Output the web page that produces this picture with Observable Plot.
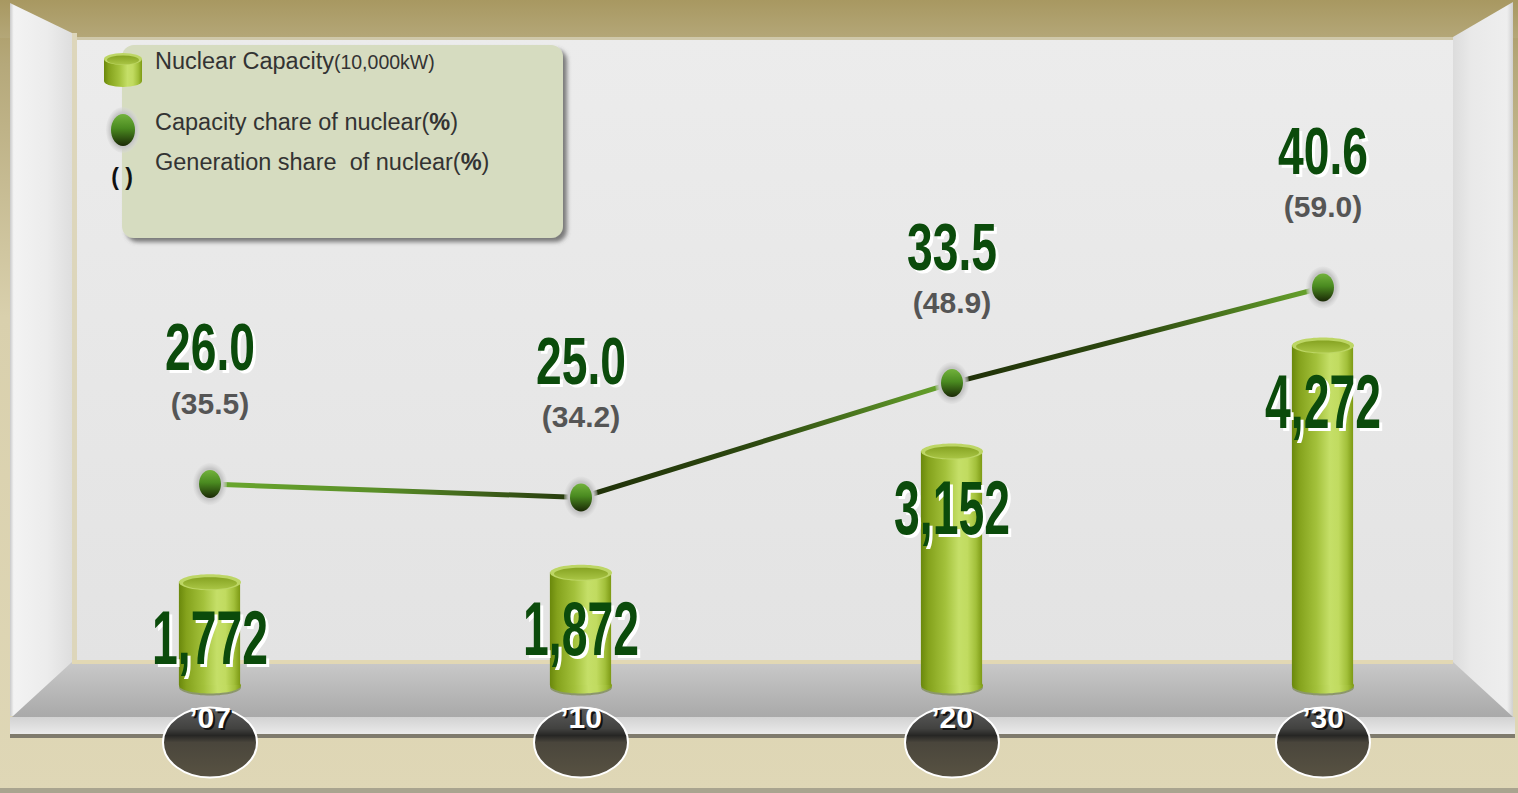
<!DOCTYPE html>
<html><head><meta charset="utf-8">
<script src="https://cdn.jsdelivr.net/npm/d3@7"></script>
<script src="https://cdn.jsdelivr.net/npm/@observablehq/plot@0.6"></script>
<style>
html,body{margin:0;padding:0;background:#dfd7b6;}
#wrap{position:relative;width:1518px;height:793px;overflow:hidden;}
#wrap > svg{position:absolute;left:0;top:0;}
</style></head><body><div id="wrap">
<svg id="bg" width="1518" height="793" xmlns="http://www.w3.org/2000/svg">
  <defs>
    <linearGradient id="outerGrad" x1="0" y1="0" x2="0" y2="1">
      <stop offset="0" stop-color="#a99962"/>
      <stop offset="0.08" stop-color="#b5a87a"/>
      <stop offset="0.4" stop-color="#d9d0ad"/>
      <stop offset="1" stop-color="#dfd7b6"/>
    </linearGradient>
    <linearGradient id="ceilGrad" x1="0" y1="0" x2="0" y2="1">
      <stop offset="0" stop-color="#a89861"/>
      <stop offset="1" stop-color="#b4a778"/>
    </linearGradient>
    <linearGradient id="wallGrad" x1="0" y1="0" x2="0" y2="1">
      <stop offset="0" stop-color="#ececec"/>
      <stop offset="1" stop-color="#e3e3e3"/>
    </linearGradient>
    <linearGradient id="leftWall" x1="0" y1="0" x2="1" y2="0">
      <stop offset="0" stop-color="#c9c9c9"/>
      <stop offset="0.06" stop-color="#f3f3f3"/>
      <stop offset="0.6" stop-color="#ececec"/>
      <stop offset="1" stop-color="#dedede"/>
    </linearGradient>
    <linearGradient id="rightWall" x1="0" y1="0" x2="1" y2="0">
      <stop offset="0" stop-color="#dcdcdc"/>
      <stop offset="0.3" stop-color="#e9e9e9"/>
      <stop offset="0.9" stop-color="#eeeeee"/>
      <stop offset="1" stop-color="#d0d0d0"/>
    </linearGradient>
    <linearGradient id="floorGrad" x1="0" y1="0" x2="0" y2="1">
      <stop offset="0" stop-color="#c9c9c9"/>
      <stop offset="0.5" stop-color="#b9b9b9"/>
      <stop offset="1" stop-color="#a9a9a9"/>
    </linearGradient>
    <linearGradient id="stripGrad" x1="0" y1="0" x2="0" y2="1">
      <stop offset="0" stop-color="#d2d2d2"/>
      <stop offset="1" stop-color="#ececec"/>
    </linearGradient>
    <linearGradient id="cylBody" x1="0" y1="0" x2="1" y2="0">
      <stop offset="0" stop-color="#6a880c"/>
      <stop offset="0.12" stop-color="#84a21c"/>
      <stop offset="0.4" stop-color="#a3c13b"/>
      <stop offset="0.62" stop-color="#c5df68"/>
      <stop offset="0.76" stop-color="#c1db60"/>
      <stop offset="0.9" stop-color="#a2c03a"/>
      <stop offset="1" stop-color="#7d9a14"/>
    </linearGradient>
    <linearGradient id="cylTop" x1="0" y1="0" x2="0" y2="1">
      <stop offset="0" stop-color="#86a322"/>
      <stop offset="1" stop-color="#a9c545"/>
    </linearGradient>
    <linearGradient id="ptGrad" x1="0" y1="0" x2="0" y2="1">
      <stop offset="0" stop-color="#72b23c"/>
      <stop offset="0.45" stop-color="#4a8a20"/>
      <stop offset="1" stop-color="#1b2906"/>
    </linearGradient>
    <radialGradient id="halo">
      <stop offset="0" stop-color="#b4b4b4"/>
      <stop offset="0.75" stop-color="#c6c6c6"/>
      <stop offset="1" stop-color="#d8d8d8" stop-opacity="0.3"/>
    </radialGradient>
    <linearGradient id="segA" x1="0" y1="0" x2="1" y2="0">
      <stop offset="0" stop-color="#6aa82e"/>
      <stop offset="0.45" stop-color="#5a8f28"/>
      <stop offset="1" stop-color="#24360c"/>
    </linearGradient>
    <linearGradient id="segB" x1="0" y1="0" x2="1" y2="0">
      <stop offset="0" stop-color="#1f2f08"/>
      <stop offset="0.5" stop-color="#2e4a10"/>
      <stop offset="1" stop-color="#6aa82e"/>
    </linearGradient>
    <linearGradient id="yearGrad" x1="0" y1="0" x2="0" y2="1">
      <stop offset="0" stop-color="#5c5c5c"/>
      <stop offset="0.3" stop-color="#424240"/>
      <stop offset="0.4" stop-color="#262624"/>
      <stop offset="0.5" stop-color="#4a463c"/>
      <stop offset="1" stop-color="#585242"/>
    </linearGradient>
    <filter id="legShadow" x="-10%" y="-10%" width="130%" height="130%">
      <feDropShadow dx="4" dy="4" stdDeviation="2" flood-color="#555" flood-opacity="0.75"/>
    </filter>
  </defs>
  <rect x="0" y="0" width="1518" height="793" fill="url(#outerGrad)"/>
  <rect x="0" y="0" width="1518" height="38" fill="url(#ceilGrad)"/>
  <rect x="72" y="37" width="1382" height="627" fill="url(#wallGrad)"/>
  <rect x="72" y="37" width="1382" height="3" fill="#cfc8aa"/>
  <polygon points="10,3 72,33 72,664 18,716 10,716" fill="url(#leftWall)"/>
  <rect x="72" y="33" width="5" height="631" fill="#ddd6bb"/>
  <polygon points="1453,37 1513,2 1513,718 1453,664" fill="url(#rightWall)"/>
  <polygon points="72,662 1453,662 1513,717 12,717" fill="url(#floorGrad)"/>
  <rect x="72" y="660" width="1381" height="4" fill="#e2d8b4"/>
  <rect x="10" y="717" width="1505" height="18" fill="url(#stripGrad)"/>
  <rect x="10" y="734" width="1505" height="4" fill="#7f7b6d"/>
  <rect x="0" y="788" width="1518" height="5" fill="#a9a48f"/>
</svg>
</div>
<script>
// ---- data ----
const years = ["’07", "’10", "’20", "’30"];
const capacity = [1772, 1872, 3152, 4272];          // 10,000 kW
const capacityShare = [26.0, 25.0, 33.5, 40.6];     // %
const generationShare = [35.5, 34.2, 48.9, 59.0];   // %

const rows = years.map((year, i) => ({year, cap: capacity[i], share: capacityShare[i], gen: generationShare[i]}));
const segments = rows.slice(1).map((d, i) => ({from: rows[i].year, to: d.year, s1: rows[i].share, s2: d.share, first: i === 0}));

function ellipse(rx, ry) {
  const k = 0.5522847498;
  return {draw(ctx) {
    ctx.moveTo(rx, 0);
    ctx.bezierCurveTo(rx, ry * k, rx * k, ry, 0, ry);
    ctx.bezierCurveTo(-rx * k, ry, -rx, ry * k, -rx, 0);
    ctx.bezierCurveTo(-rx, -ry * k, -rx * k, -ry, 0, -ry);
    ctx.bezierCurveTo(rx * k, -ry, rx, -ry * k, rx, 0);
    ctx.closePath();
  }};
}

const fmt = d3.format(",");
const bigFont = '"Liberation Sans Narrow","Arial Narrow","Liberation Sans",Arial,sans-serif';
const sansFont = '"Liberation Sans",Arial,sans-serif';
const capMin = 680;

const xScale = {type: "band", domain: years, range: [22, 1509], padding: 0, axis: null};
const common = {width: 1518, height: 793, marginTop: 0, marginRight: 0, marginBottom: 51, marginLeft: 0,
  style: {background: "transparent", overflow: "visible"}};

const plotA = Plot.plot({
  ...common,
  x: xScale,
  y: {domain: [capMin, d3.max(capacity)], range: [685, 345], axis: null},
  marks: [
    Plot.dot(rows, {x: "year", y: () => capMin, symbol: ellipse(31, 8), dy: 2, fill: "#5f7620", fillOpacity: 0.5}),
    Plot.dot(rows, {x: "year", y: () => capMin, symbol: ellipse(31, 8), fill: "url(#cylBody)"}),
    Plot.barY(rows, {x: "year", y1: () => capMin, y2: "cap", fill: "url(#cylBody)", insetLeft: 154.9, insetRight: 154.9}),
    Plot.dot(rows, {x: "year", y: "cap", symbol: ellipse(31, 8), fill: "#bdd665"}),
    Plot.dot(rows, {x: "year", y: "cap", symbol: ellipse(27, 6), dy: 1, fill: "url(#cylTop)"}),
    Plot.text(rows, {x: "year", y: "cap", text: d => fmt(d.cap), dy: 61, dx: 3, fill: "white", fontSize: 57, fontWeight: "bold", fontFamily: bigFont}),
    Plot.text(rows, {x: "year", y: "cap", text: d => fmt(d.cap), dy: 58, fill: "#0b4b0b", fontSize: 57, fontWeight: "bold", fontFamily: bigFont}),
    Plot.dot(rows, {x: "year", frameAnchor: "bottom", symbol: ellipse(47, 35), fill: "url(#yearGrad)", stroke: "white", strokeWidth: 2}),
    Plot.text(rows, {x: "year", frameAnchor: "bottom", text: "year", dy: -13, dx: 2, fill: "#111", fontSize: 30, fontWeight: "bold", fontFamily: sansFont}),
    Plot.text(rows, {x: "year", frameAnchor: "bottom", text: "year", dy: -15, fill: "white", fontSize: 30, fontWeight: "bold", fontFamily: sansFont})
  ]
});

const plotB = Plot.plot({
  ...common,
  x: xScale,
  y: {domain: d3.extent(capacityShare), range: [497, 287], axis: null},
  marks: [
    Plot.link(segments.filter(d => d.first), {x1: "from", x2: "to", y1: "s1", y2: "s2", stroke: "url(#segA)", strokeWidth: 5}),
    Plot.link(segments.filter(d => !d.first), {x1: "from", x2: "to", y1: "s1", y2: "s2", stroke: "url(#segB)", strokeWidth: 5}),
    Plot.dot(rows, {x: "year", y: "share", symbol: ellipse(17, 21), fill: "url(#halo)"}),
    Plot.dot(rows, {x: "year", y: "share", symbol: ellipse(11, 14), fill: "url(#ptGrad)"}),
    Plot.text(rows, {x: "year", y: "share", text: d => d.share.toFixed(1), dy: -132, dx: 3, fill: "white", fontSize: 56, fontWeight: "bold", fontFamily: bigFont}),
    Plot.text(rows, {x: "year", y: "share", text: d => d.share.toFixed(1), dy: -135, fill: "#0b4b0b", fontSize: 56, fontWeight: "bold", fontFamily: bigFont}),
    Plot.text(rows, {x: "year", y: "share", text: d => `(${d.gen.toFixed(1)})`, dy: -80, fill: "#555555", fontSize: 30, fontWeight: "bold", fontFamily: sansFont})
  ]
});

const wrap = document.getElementById("wrap");
wrap.appendChild(plotA);
wrap.appendChild(plotB);

// stretch the condensed numeric labels to the tall look of the original
const ctx = document.createElement("canvas").getContext("2d");
function stretch(svg, size, sample, targetW, targetCap) {
  ctx.font = `bold ${size}px ${bigFont}`;
  const w = ctx.measureText(sample).width;
  const sx = targetW / w;
  const sy = targetCap / (0.716 * size);
  svg.querySelectorAll(`g[font-size="${size}"] text`).forEach(t => {
    t.setAttribute("transform", (t.getAttribute("transform") || "") + ` scale(${sx.toFixed(3)},${sy.toFixed(3)})`);
  });
}
stretch(plotA, 57, "1,772", 116, 54);
stretch(plotB, 56, "26.0", 90, 48);

// legend
const legend = d3.select(wrap).append("svg").attr("width", 1518).attr("height", 793);
legend.append("rect").attr("x", 122).attr("y", 45).attr("width", 441).attr("height", 193).attr("rx", 12)
  .attr("fill", "#d6dcc0").attr("filter", "url(#legShadow)");
legend.append("rect").attr("x", 104).attr("y", 59).attr("width", 38).attr("height", 22).attr("fill", "url(#cylBody)");
legend.append("ellipse").attr("cx", 123).attr("cy", 81).attr("rx", 19).attr("ry", 6).attr("fill", "url(#cylBody)");
legend.append("ellipse").attr("cx", 123).attr("cy", 59).attr("rx", 19).attr("ry", 6).attr("fill", "#bdd665");
legend.append("ellipse").attr("cx", 123).attr("cy", 60).attr("rx", 16).attr("ry", 4.5).attr("fill", "url(#cylTop)");
legend.append("ellipse").attr("cx", 123).attr("cy", 130).attr("rx", 17).attr("ry", 23).attr("fill", "url(#halo)");
legend.append("ellipse").attr("cx", 123).attr("cy", 130).attr("rx", 12).attr("ry", 16).attr("fill", "url(#ptGrad)");
legend.append("text").attr("x", 122).attr("y", 185).attr("text-anchor", "middle").attr("font-family", sansFont)
  .attr("font-weight", "bold").attr("font-size", 23).attr("fill", "#111").text("( )");
const t1 = legend.append("text").attr("x", 155).attr("y", 69).attr("font-family", sansFont).attr("fill", "#333").attr("font-size", 23.5);
t1.append("tspan").text("Nuclear Capacity");
t1.append("tspan").attr("font-size", 19.5).text("(10,000kW)");
const t2 = legend.append("text").attr("x", 155).attr("y", 130).attr("font-family", sansFont).attr("fill", "#333").attr("font-size", 23.5);
t2.append("tspan").text("Capacity chare of nuclear(");
t2.append("tspan").attr("font-weight", "bold").text("%");
t2.append("tspan").text(")");
const t3 = legend.append("text").attr("x", 155).attr("y", 170).attr("font-family", sansFont).attr("fill", "#333").attr("font-size", 23.5).style("white-space", "pre");
t3.append("tspan").text("Generation share  of nuclear(");
t3.append("tspan").attr("font-weight", "bold").text("%");
t3.append("tspan").text(")");
</script>
</body></html>
